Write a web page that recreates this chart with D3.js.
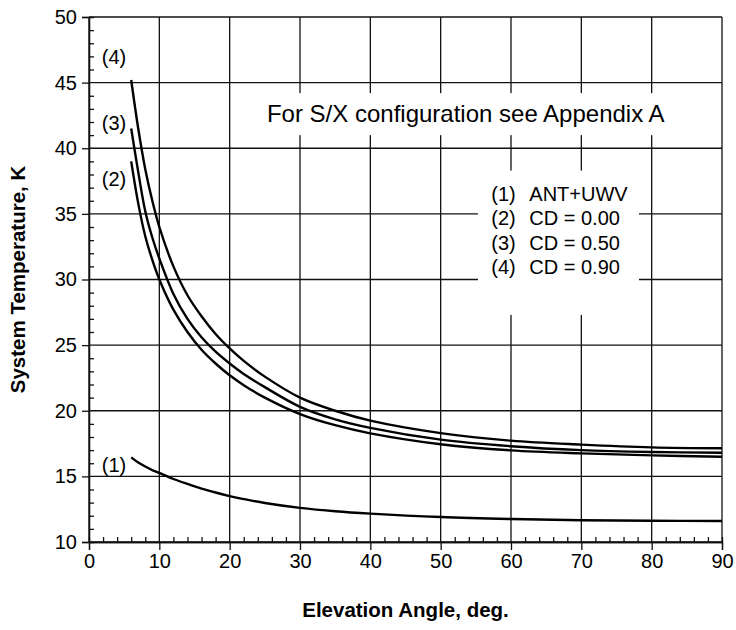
<!DOCTYPE html>
<html>
<head>
<meta charset="utf-8">
<script src="https://cdn.jsdelivr.net/npm/d3@7"></script>
<style>
  body { margin: 0; background: #fff; }
  text { font-family: Arial, 'Liberation Sans', sans-serif; fill: #000; }
</style>
</head>
<body>
<div id="chart"></div>
<script>
(() => {

// elevation angles, deg.
const angles = [6, 7, 8, 9, 10, 12, 14, 16, 18, 20, 22, 25, 30, 35, 40, 50, 60, 70, 80, 90];
// system temperature, K
const antUwv = [16.45, 16.06, 15.75, 15.48, 15.27, 14.8, 14.42, 14.07, 13.77, 13.5, 13.27, 12.97, 12.6, 12.34, 12.16, 11.9, 11.75, 11.66, 11.62, 11.6];
const cd000 = [39.0, 35.8, 33.3, 31.5, 30.0, 27.7, 26.0, 24.65, 23.6, 22.7, 21.95, 21.0, 19.75, 18.9, 18.28, 17.45, 16.98, 16.75, 16.6, 16.5];
const cd050 = [41.5, 38.2, 35.2, 33.2, 31.6, 28.9, 27.0, 25.6, 24.5, 23.6, 22.8, 21.8, 20.3, 19.35, 18.7, 17.8, 17.3, 17.0, 16.86, 16.8];
const cd090 = [45.2, 41.5, 38.4, 36.0, 34.0, 31.0, 28.8, 27.2, 25.85, 24.75, 23.8, 22.6, 21.0, 20.0, 19.25, 18.3, 17.72, 17.42, 17.21, 17.14];

const seriesTags = ['(1)', '(2)', '(3)', '(4)'];
const legendNames = ['ANT+UWV', 'CD = 0.00', 'CD = 0.50', 'CD = 0.90'];
const note = 'For S/X configuration see Appendix A';

const xTicks = [0, 10, 20, 30, 40, 50, 60, 70, 80, 90];
const yTicks = [10, 15, 20, 25, 30, 35, 40, 45, 50];
const xMinor = d3.range(0, 91, 2).filter(v => v % 10 !== 0);
const yMinor = d3.range(10, 51, 1).filter(v => v % 5 !== 0);

const config = {
  width: 736,
  height: 630,
  margin: [17, 14, 88, 89], // top right bottom left
  font: 20,
  // vertical offset of each tag centre from the start of its curve
  tagShift: [8, 18, -6, -23]
};
config.chartWidth = config.width - config.margin[1] - config.margin[3];
config.chartHeight = config.height - config.margin[0] - config.margin[2];

const series = [antUwv, cd000, cd050, cd090].map((vals, i) => ({
  tag: seriesTags[i],
  name: legendNames[i],
  points: angles.map((a, j) => ({x: a, y: vals[j]}))
}));

const svg = d3.select('#chart')
  .append('svg')
  .attr('width', config.width)
  .attr('height', config.height);

const chart = svg.append('g')
  .attr('transform', `translate(${config.margin[3]}, ${config.margin[0]})`);

const scaleX = d3.scaleLinear().domain([0, 90]).range([0, config.chartWidth]);
const scaleY = d3.scaleLinear().domain([10, 50]).range([config.chartHeight, 0]);

// grid
chart.append('g').selectAll('line')
  .data(xTicks).enter().append('line')
  .attr('x1', d => scaleX(d)).attr('x2', d => scaleX(d))
  .attr('y1', 0).attr('y2', config.chartHeight)
  .attr('stroke', '#111').attr('stroke-width', 1.3);
chart.append('g').selectAll('line')
  .data(yTicks).enter().append('line')
  .attr('x1', 0).attr('x2', config.chartWidth)
  .attr('y1', d => scaleY(d)).attr('y2', d => scaleY(d))
  .attr('stroke', '#111').attr('stroke-width', 1.3);

// white boxes behind the texts
chart.append('rect')
  .attr('x', scaleX(23.7)).attr('y', scaleY(44.2))
  .attr('width', scaleX(84.2) - scaleX(23.7))
  .attr('height', scaleY(41.0) - scaleY(44.2))
  .attr('fill', '#fff');
chart.append('rect')
  .attr('x', scaleX(55.3)).attr('y', scaleY(38.3))
  .attr('width', scaleX(78.2) - scaleX(55.3))
  .attr('height', scaleY(27.3) - scaleY(38.3))
  .attr('fill', '#fff');

// axes
chart.append('g')
  .attr('transform', `translate(0, ${config.chartHeight})`)
  .call(d3.axisBottom(scaleX).tickValues(xTicks).tickSize(8).tickPadding(4).tickFormat(d3.format('d')));
chart.append('g')
  .attr('transform', `translate(0, ${config.chartHeight})`)
  .call(d3.axisBottom(scaleX).tickValues(xMinor).tickSize(-5).tickFormat(''));
chart.append('g')
  .call(d3.axisLeft(scaleY).tickValues(yTicks).tickSize(7).tickPadding(5).tickFormat(d3.format('d')));
chart.append('g')
  .call(d3.axisLeft(scaleY).tickValues(yMinor).tickSize(-5).tickFormat(''));

chart.selectAll('.domain').attr('stroke', '#111').attr('stroke-width', 1.3);
chart.selectAll('.tick line').attr('stroke', '#111').attr('stroke-width', 1.3);
chart.selectAll('.tick text')
  .style('font-family', "Arial, 'Liberation Sans', sans-serif")
  .style('font-size', `${config.font}px`)
  .attr('fill', '#000');

// curves
const line = d3.line()
  .x(d => scaleX(d.x))
  .y(d => scaleY(d.y))
  .curve(d3.curveCatmullRom.alpha(0.5));

chart.selectAll('.curve')
  .data(series).enter().append('path')
  .attr('class', 'curve')
  .attr('d', d => line(d.points))
  .attr('fill', 'none')
  .attr('stroke', '#000')
  .attr('stroke-width', 2.4);

// series tags next to the curve starts
chart.selectAll('.tag')
  .data(series).enter().append('text')
  .attr('class', 'tag')
  .attr('x', d => scaleX(d.points[0].x) - 5)
  .attr('y', (d, i) => scaleY(d.points[0].y) + config.tagShift[i] + 7)
  .attr('text-anchor', 'end')
  .style('font-size', `${config.font}px`)
  .text(d => d.tag);

// legend
const legend = chart.append('g')
  .attr('transform', `translate(${scaleX(57.2)}, ${scaleY(36.0)})`);
legend.selectAll('text.lt')
  .data(series).enter().append('text')
  .attr('class', 'lt')
  .attr('x', 0)
  .attr('y', (d, i) => i * 24.4)
  .style('font-size', `${config.font}px`)
  .text(d => d.tag);
legend.selectAll('text.ln')
  .data(series).enter().append('text')
  .attr('class', 'ln')
  .attr('x', 38)
  .attr('y', (d, i) => i * 24.4)
  .style('font-size', `${config.font}px`)
  .text(d => d.name);

chart.append('text')
  .attr('x', scaleX(25.3))
  .attr('y', scaleY(42.7) + 9)
  .style('font-size', '24px')
  .text(note);

// axis titles
svg.append('text')
  .attr('x', config.margin[3] + config.chartWidth / 2)
  .attr('y', 617)
  .attr('text-anchor', 'middle')
  .style('font-size', '20.5px')
  .style('font-weight', 'bold')
  .text('Elevation Angle, deg.');

svg.append('text')
  .attr('transform', `translate(25, ${config.margin[0] + config.chartHeight / 2}) rotate(-90)`)
  .attr('text-anchor', 'middle')
  .style('font-size', '20.5px')
  .style('font-weight', 'bold')
  .text('System Temperature, K');

})();
</script>
</body>
</html>
